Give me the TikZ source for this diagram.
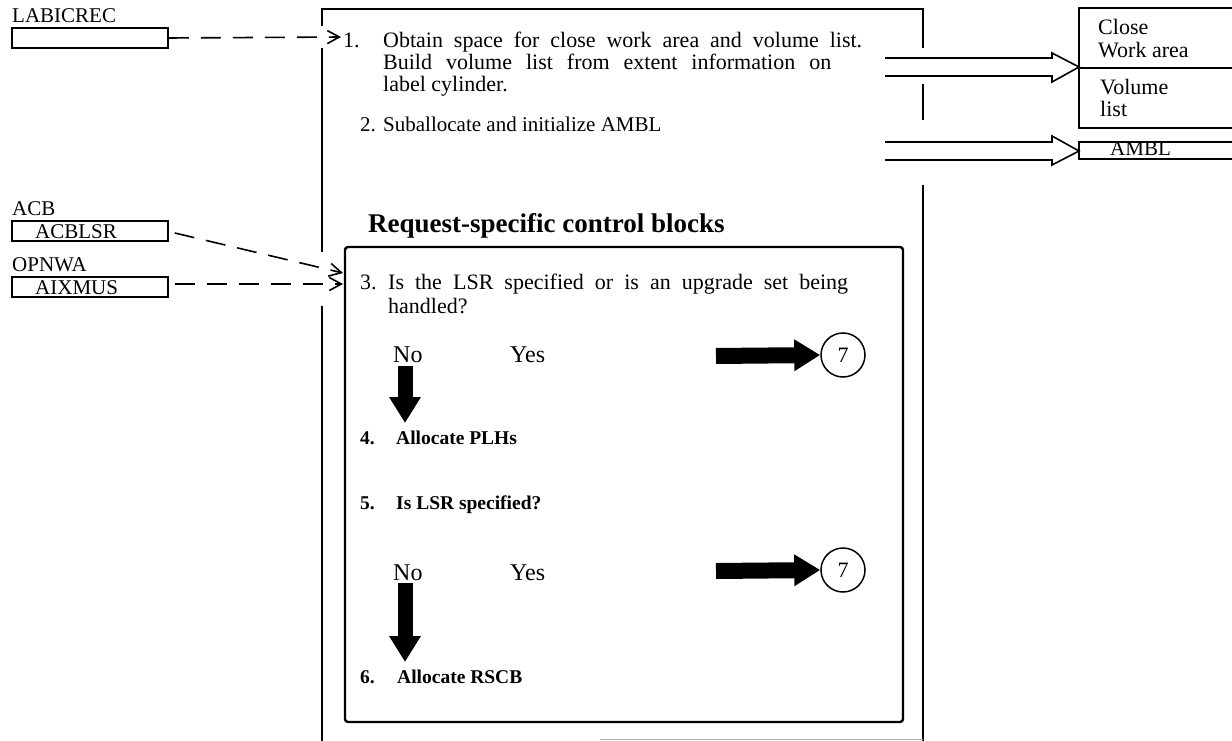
\documentclass[tikz,border=0pt]{standalone}
\usepackage{fontspec}
\setmainfont{Liberation Serif}
\usetikzlibrary{arrows.meta}
\newcommand{\spreadline}[2]{\makebox[#1][s]{#2}}
\begin{document}
\begin{tikzpicture}[x=1pt,y=-1pt,
  txt/.style={anchor=base west, inner sep=0pt, font=\fontsize{22}{24}\selectfont},
  lbl/.style={anchor=base west, inner sep=0pt, font=\fontsize{21}{24}\selectfont},
  btxt/.style={anchor=base west, inner sep=0pt, font=\fontsize{19.5}{24}\selectfont\bfseries},
  choice/.style={anchor=base west, inner sep=0pt, font=\fontsize{24}{28}\selectfont},
  frameline/.style={line width=2.8pt},
  innerframe/.style={line width=2.4pt, rounded corners=3pt},
  fieldbox/.style={draw, line width=1.6pt, minimum width=156pt, minimum height=20pt,
    inner sep=0pt},
  dasharrow/.style={line width=1.6pt, dash pattern=on 20pt off 12pt,
    -{Straight Barb[length=12pt,width=13pt,line width=1.6pt]}},
  hollow/.style={line width=1.6pt, line join=miter},
  thick arrow/.style={line width=15pt, -{Triangle[length=26pt,width=30pt]}},
  connector/.style={circle, draw, line width=1.5pt, minimum size=44pt, inner sep=0pt,
    font=\fontsize{22}{24}\selectfont},
  databox/.style={line width=1.8pt}
]
\useasboundingbox (0,0) rectangle (1232,741);

% ---- outer frame (open where data flows cross it) ----
\draw[frameline] (322,26) -- (322,9) -- (923,9) -- (923,48);
\draw[frameline] (322,48) -- (322,252);
\draw[frameline] (322,306) -- (322,741);
\draw[frameline] (923,84) -- (923,120);
\draw[frameline] (923,185) -- (923,741);
\draw[gray!60, line width=1pt] (600,739) -- (923,739);

% ---- request-specific inner frame ----
\node[anchor=base west, inner sep=0pt, font=\fontsize{27}{30}\selectfont\bfseries] (rsc) at (368,233) {Request-specific control blocks};
\draw[innerframe] (345,247) rectangle (903,722);

% ---- input fields ----
\node[lbl] (labl) at (12,23) {LABICREC};
\node[fieldbox] (labic) at (90,38) {};
\node[lbl] (acbl) at (12,215) {ACB};
\node[fieldbox] (acblsr) at (90,231) {};
\node[lbl] (acbt) at (35,238) {ACBLSR};
\node[lbl] (opnl) at (12,271) {OPNWA};
\node[fieldbox] (aixmus) at (90,287) {};
\node[lbl] (aixt) at (35,294) {AIXMUS};

% ---- step texts ----
\node[txt] (n1) at (343,48) {1.};
\node[txt] (s1a) at (383,48) {\spreadline{479pt}{Obtain space for close work area and volume list.}};
\node[txt] (s1b) at (383,70) {\spreadline{448pt}{Build volume list from extent information on}};
\node[txt] (s1c) at (383,92) {label cylinder.};
\node[txt, font=\fontsize{21}{24}\selectfont] (n2) at (360,132) {2.};
\node[txt, font=\fontsize{21}{24}\selectfont] (s2) at (383,132) {Suballocate and initialize AMBL};
\node[txt] (n3) at (360,289) {3.};
\node[txt] (s3a) at (388,289) {\spreadline{460pt}{Is the LSR specified or is an upgrade set being}};
\node[txt] (s3b) at (388,313) {handled?};
\node[choice] (no1) at (393,362) {No};
\node[choice] (yes1) at (510,362) {Yes};
\node[btxt] (n4) at (360,444) {4.};
\node[btxt] (s4) at (396,444) {Allocate PLHs};
\node[btxt] (n5) at (360,509) {5.};
\node[btxt] (s5) at (396,509) {Is LSR specified?};
\node[choice] (no2) at (393,580) {No};
\node[choice] (yes2) at (510,580) {Yes};
\node[btxt] (n6) at (360,683) {6.};
\node[btxt] (s6) at (397,683) {Allocate RSCB};

% ---- off-page connectors ----
\node[connector] (c7a) at (843,355) {7};
\node[connector] (c7b) at (843,570) {7};

% ---- output areas ----
\coordinate (cw) at (1079,8);
\draw[databox] (1232,8) -- (cw) -- (1079,128) -- (1232,128);
\draw[databox] (1079,68) -- (1232,68);
\node[lbl, font=\fontsize{22}{24}\selectfont] (close) at (1098,35) {Close};
\node[lbl, font=\fontsize{22}{24}\selectfont] (work) at (1098,58) {Work area};
\node[lbl, font=\fontsize{22}{24}\selectfont] (vol) at (1100,95) {Volume};
\node[lbl, font=\fontsize{22}{24}\selectfont] (list) at (1100,117) {list};
\coordinate (am) at (1079,142);
\draw[databox] (1232,142) -- (am) -- (1079,159) -- (1232,159);
\node[lbl] (ambl) at (1110,156) {AMBL};

% ---- dashed input arrows ----
\coordinate (t1) at (341,37);
\coordinate (t3a) at (343,273);
\coordinate (t3b) at (343,284);
\draw[dasharrow] (labic.east) -- (t1);
\draw[dasharrow] ([xshift=6pt,yshift=-2pt]acblsr.east) -- (t3a);
\draw[dasharrow] ([xshift=6pt,yshift=3pt]aixmus.east) -- (t3b);

% ---- hollow output arrows ----
\draw[hollow] (885,58) -- (1052,58) -- (1052,53) -- (1079,67) -- (1052,82) -- (1052,76) -- (885,76);
\draw[hollow] (885,142) -- (1052,142) -- (1052,136) -- (1079,151) -- (1052,165) -- (1052,160) -- (885,160);

% ---- decision flow arrows ----
\coordinate (d1) at (405,366);
\coordinate (d1e) at (405,423);
\draw[thick arrow] (d1) -- (d1e);
\coordinate (d2) at (405,583);
\coordinate (d2e) at (405,662);
\draw[thick arrow] (d2) -- (d2e);
\coordinate (r1) at (716,356);
\draw[thick arrow, line width=16pt] (r1) -- (c7a.west);
\coordinate (r2) at (716,571);
\draw[thick arrow, line width=16pt] (r2) -- (c7b.west);
\end{tikzpicture}
\end{document}
